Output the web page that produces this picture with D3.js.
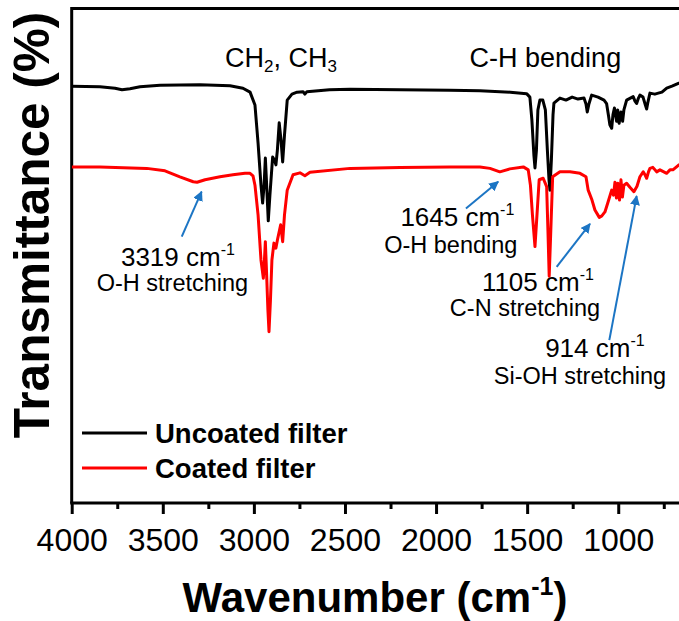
<!DOCTYPE html>
<html>
<head>
<meta charset="utf-8">
<script src="https://cdn.jsdelivr.net/npm/d3@7"></script>
<style>
  html, body { margin: 0; padding: 0; background: #fff; }
  svg { display: block; font-family: "Liberation Sans", Arial, sans-serif; }
</style>
</head>
<body>
<svg id="chart" width="679" height="621"></svg>
<script>
// ---- data (wavenumber cm-1, transmittance offset, arbitrary %) ----
const uncoatedWavenumber = [4000,3845,3762,3724,3680,3625,3515,3296,3131,3060,3021,2994,2977,2961,2952,2944,2937,2931,2921,2912,2897,2887,2879,2871,2861,2851,2842,2832,2817,2791,2763,2730,2720,2709,2585,2472,2198,1924,1759,1593,1503,1485,1474,1463,1457,1449,1441,1430,1414,1400,1389,1380,1375,1367,1358,1353,1320,1287,1253,1221,1188,1177,1170,1161,1146,1111,1078,1064,1054,1046,1036,1029,1021,1009,1003,995,985,976,969,954,918,908,899,889,881,864,851,844,837,826,799,780,760,734,705,667,650];
const uncoatedT = [84.2,84.1,83.8,83.5,83.7,84.1,84.4,84.5,84.3,83.8,83.0,80.4,72.7,64.2,60.6,64.2,69.7,65.1,57.0,62.2,69.9,69.3,68.3,71.3,76.8,73.3,68.9,74.3,81.4,82.6,83.0,83.1,82.6,83.1,83.5,83.6,83.5,83.4,83.3,83.0,82.7,82.0,77.4,70.3,67.7,71.3,79.4,81.4,81.4,79.4,71.3,65.3,63.2,69.3,78.4,80.8,81.8,81.4,82.0,81.6,81.8,80.6,79.0,80.6,82.4,82.0,81.4,80.7,78.4,76.4,75.7,78.4,79.8,77.1,79.4,76.7,79.0,77.1,79.4,81.4,82.1,81.2,80.7,81.8,82.4,82.0,80.4,79.6,81.0,82.8,82.6,82.8,83.0,83.8,84.2,84.8,85.0];

const coatedWavenumber = [4000,3845,3588,3488,3406,3333,3312,3268,3186,3115,3049,3021,3005,2994,2977,2961,2948,2942,2937,2931,2923,2917,2909,2901,2890,2879,2871,2853,2842,2832,2817,2785,2747,2720,2692,2472,2198,1924,1759,1704,1650,1595,1521,1494,1482,1471,1457,1446,1434,1412,1393,1386,1379,1370,1360,1320,1265,1210,1177,1165,1144,1128,1104,1090,1073,1055,1036,1026,1018,1010,1002,993,985,977,969,954,936,914,897,881,863,853,844,834,826,810,789,771,734,716,700,667,650];
const coatedT = [67.9,67.9,67.6,67.1,65.9,64.9,64.8,65.3,65.9,66.3,66.6,66.6,66.1,64.2,58.2,49.1,45.4,49.1,52.8,47.1,39.0,34.6,41.0,49.1,52.5,51.5,53.1,56.2,52.8,58.2,63.2,66.3,66.7,66.1,66.8,67.6,67.8,67.9,67.9,67.6,66.9,67.5,67.9,67.3,64.2,58.2,51.8,58.2,65.3,65.6,63.9,55.2,45.8,55.2,65.9,66.9,66.9,66.6,65.9,63.2,61.2,59.2,57.7,58.0,58.8,60.9,63.2,62.2,64.8,61.6,64.6,61.2,65.3,61.8,64.2,64.6,63.8,62.9,64.0,65.9,66.9,66.3,65.6,66.9,67.6,67.8,66.9,67.3,66.6,67.3,67.3,68.3,68.5];

const seriesNames = ["Uncoated filter", "Coated filter"];
const seriesColors = ["#000000", "#ff0000"];
const majorTicks = [4000,3500,3000,2500,2000,1500,1000];
const minorTicks = [3750,3250,2750,2250,1750,1250,750];

// annotations (positions in data units: [wavenumber, T])
const annoNumbers = ["3319", "1645", "1105", "914"];
const annoDescriptions = ["O-H stretching", "O-H bending", "C-N stretching", "Si-OH stretching"];
const annoArrowFrom = [[3396, 53.8], [1836, 59.5], [1338, 47.7], [1049, 32.9]];
const annoArrowTo   = [[3287, 62.9], [1659, 64.9], [1155, 56.4], [899, 62.0]];
const annoNumberPos = [[3417, 47.8], [1883, 55.9], [1441, 42.9], [1128, 29.4]];
const annoDescPos   = [[3447, 42.8], [1919, 50.6], [1512, 37.7], [1210, 24.1]];
const bandLabels = [["CH", "2", ", CH", "3"], ["C-H bending"]];
const bandLabelPos = [[2851, 88.1], [1400, 88.1]];

// ---- layout ----
const svg = d3.select("#chart");
const mLeft = 71.7, mRight = 682, mTop = 8.5, mBottom = 503;
const x = d3.scaleLinear().domain([4000, 650]).range([mLeft, mRight]);
const y = d3.scaleLinear().domain([0, 100]).range([mBottom, mBottom - 495]);

// frame
svg.append("line").attr("x1", mLeft).attr("x2", 679).attr("y1", mTop).attr("y2", mTop)
  .attr("stroke", "#000").attr("stroke-width", 3);
svg.append("line").attr("x1", mLeft).attr("x2", mLeft).attr("y1", mTop - 1.5).attr("y2", mBottom)
  .attr("stroke", "#000").attr("stroke-width", 3);
svg.append("line").attr("x1", mLeft - 1.5).attr("x2", 679).attr("y1", mBottom).attr("y2", mBottom)
  .attr("stroke", "#000").attr("stroke-width", 3);

// axes
const gMaj = svg.append("g").attr("transform", `translate(0,${mBottom})`)
  .call(d3.axisBottom(x).tickValues(majorTicks).tickSize(11).tickPadding(14).tickFormat(d3.format("d")));
gMaj.select(".domain").remove();
gMaj.selectAll("line").attr("stroke-width", 3);
gMaj.selectAll("text").attr("font-size", 32).attr("fill", "#000")
  .attr("font-family", "Liberation Sans, Arial, sans-serif");
const gMin = svg.append("g").attr("transform", `translate(0,${mBottom})`)
  .call(d3.axisBottom(x).tickValues(minorTicks).tickSize(6).tickFormat(""));
gMin.select(".domain").remove();
gMin.selectAll("line").attr("stroke-width", 3);

// spectra
const line = d3.line().x(d => x(d[0])).y(d => y(d[1]));
svg.append("clipPath").attr("id", "clip").append("rect")
  .attr("x", mLeft).attr("y", mTop).attr("width", 679 - mLeft).attr("height", mBottom - mTop);
const seriesData = [
  d3.zip(uncoatedWavenumber, uncoatedT),
  d3.zip(coatedWavenumber, coatedT)
];
seriesData.forEach((d, i) => {
  svg.append("path").datum(d).attr("d", line)
    .attr("fill", "none").attr("stroke", seriesColors[i]).attr("stroke-width", 3)
    .attr("stroke-linejoin", "round").attr("clip-path", "url(#clip)");
});

// band labels
const bl0 = svg.append("text").attr("x", x(bandLabelPos[0][0])).attr("y", y(bandLabelPos[0][1]))
  .attr("font-size", 27).attr("text-anchor", "middle");
bl0.append("tspan").text(bandLabels[0][0]);
bl0.append("tspan").text(bandLabels[0][1]).attr("font-size", 17).attr("dy", 5);
bl0.append("tspan").text(bandLabels[0][2]).attr("dy", -5);
bl0.append("tspan").text(bandLabels[0][3]).attr("font-size", 17).attr("dy", 5);
svg.append("text").attr("x", x(bandLabelPos[1][0])).attr("y", y(bandLabelPos[1][1]))
  .attr("font-size", 27).attr("text-anchor", "middle").text(bandLabels[1][0]);

// annotations: one two-line text per band
const defs = svg.append("defs");
defs.append("marker").attr("id", "ah").attr("viewBox", "0 0 10 10").attr("refX", 9).attr("refY", 5)
  .attr("markerWidth", 5).attr("markerHeight", 5).attr("orient", "auto")
  .append("path").attr("d", "M0,0 L10,5 L0,10 Z").attr("fill", "#1c75c4");
annoNumbers.forEach((num, i) => {
  svg.append("line")
    .attr("x1", x(annoArrowFrom[i][0])).attr("y1", y(annoArrowFrom[i][1]))
    .attr("x2", x(annoArrowTo[i][0])).attr("y2", y(annoArrowTo[i][1]))
    .attr("stroke", "#1c75c4").attr("stroke-width", 2).attr("marker-end", "url(#ah)");
  const nx = x(annoNumberPos[i][0]), ny = y(annoNumberPos[i][1]);
  const dx = x(annoDescPos[i][0]), dyy = y(annoDescPos[i][1]);
  const t = svg.append("text").attr("text-anchor", "middle");
  t.append("tspan").attr("x", nx).attr("y", ny).attr("font-size", 26).text(num + " cm");
  t.append("tspan").text("-1").attr("font-size", 16).attr("dy", -11);
  t.append("tspan").attr("x", dx).attr("y", dyy).attr("font-size", 23.5).text(annoDescriptions[i]);
});

// legend
seriesNames.forEach((name, i) => {
  const ly = 433 + i * 35;
  svg.append("line").attr("x1", 82).attr("x2", 147).attr("y1", ly).attr("y2", ly)
    .attr("stroke", seriesColors[i]).attr("stroke-width", 3);
  svg.append("text").attr("x", 155).attr("y", ly + 10).attr("font-size", 27.5)
    .attr("font-weight", "bold").text(name);
});

// axis titles
const xt = svg.append("text").attr("x", 375).attr("y", 612).attr("font-size", 42)
  .attr("font-weight", "bold").attr("text-anchor", "middle");
xt.append("tspan").text("Wavenumber (cm");
xt.append("tspan").text("-1").attr("font-size", 25).attr("dy", -17);
xt.append("tspan").text(")").attr("dy", 17);
svg.append("text").attr("transform", "translate(48.5,225) rotate(-90)")
  .attr("font-size", 49.5).attr("font-weight", "bold").attr("text-anchor", "middle")
  .text("Transmittance (%)");
</script>
</body>
</html>
